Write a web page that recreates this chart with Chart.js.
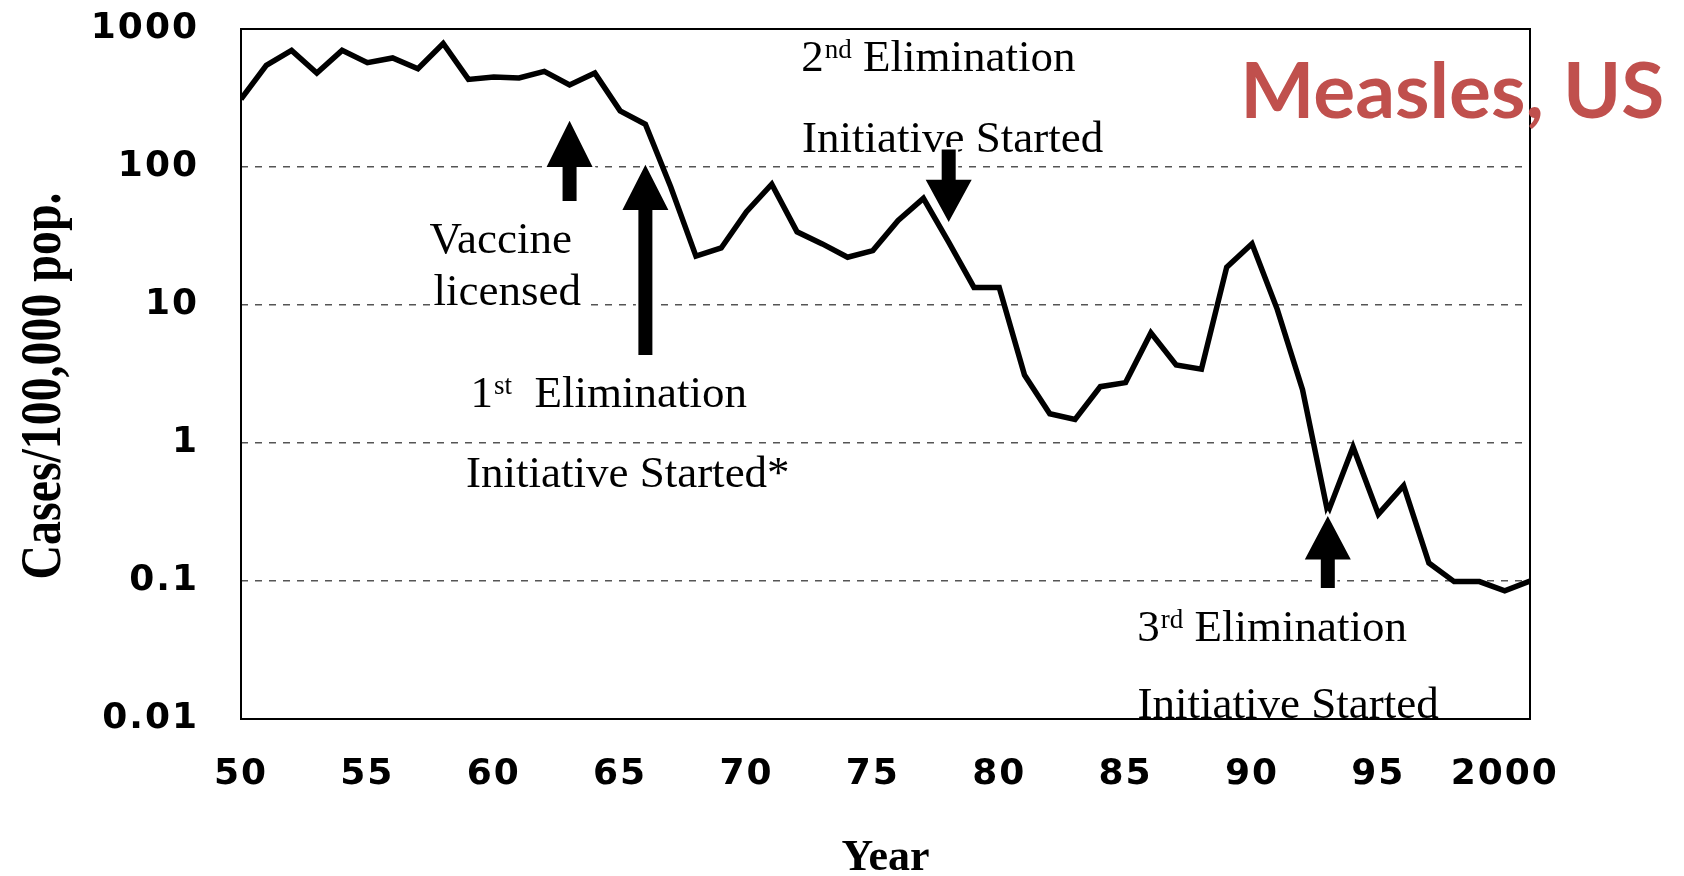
<!DOCTYPE html>
<html>
<head>
<meta charset="utf-8">
<script src="https://cdn.jsdelivr.net/npm/chart.js@4.4.1/dist/chart.umd.min.js"></script>
<style>
html, body { margin: 0; padding: 0; background: #fff; }
#wrap { width: 1684px; height: 876px; }
</style>
</head>
<body>
<div id="wrap"><canvas id="chart" width="1684" height="876"></canvas></div>
<script>
"use strict";

var years = [1950, 1951, 1952, 1953, 1954, 1955, 1956, 1957, 1958, 1959,
             1960, 1961, 1962, 1963, 1964, 1965, 1966, 1967, 1968, 1969,
             1970, 1971, 1972, 1973, 1974, 1975, 1976, 1977, 1978, 1979,
             1980, 1981, 1982, 1983, 1984, 1985, 1986, 1987, 1988, 1989,
             1990, 1991, 1992, 1993, 1994, 1995, 1996, 1997, 1998, 1999,
             2000, 2001];
// cases per 100,000
var rates = [310, 546, 700, 479, 700, 570, 617, 515, 785, 431,
             448, 442, 493, 393, 479, 255, 204, 72, 22.6, 25.9,
             47.4, 75, 33.9, 27.7, 22.2, 24.8, 41, 59.3, 28.6, 13.4,
             13.4, 3.11, 1.63, 1.48, 2.56, 2.74, 6.28, 3.68, 3.43, 18.8,
             27.8, 9.3, 2.43, 0.313, 0.935, 0.305, 0.49, 0.135, 0.099, 0.099,
             0.085, 0.1];

var xTickValues = [1950, 1955, 1960, 1965, 1970, 1975, 1980, 1985, 1990, 1995, 2000];
var xTickLabels = ['50', '55', '60', '65', '70', '75', '80', '85', '90', '95', '2000'];
var yTickValues = [0.01, 0.1, 1, 10, 100, 1000];
var yTickLabels = ['0.01', '0.1', '1', '10', '100', '1000'];

// arrows: year, tail value, head base value, tip value
var arrowYears = [1963, 1966, 1978, 1993];
var arrowTails = [56.6, 4.35, 134, 0.089];
var arrowBases = [100, 48.7, 80.8, 0.143];
var arrowTips = [216, 104, 40, 0.296];

// notes: text before superscript, superscript, text after; anchored at left/baseline
var notePre = ['Vaccine', 'licensed', '1', 'Initiative Started*', '2', 'Initiative Started', '3', 'Initiative Started'];
var noteSup = ['', '', 'st', '', 'nd', '', 'rd', ''];
var notePost = ['', '', '  Elimination', '', ' Elimination', '', ' Elimination', ''];
var noteYears = [1957.46, 1957.62, 1959.08, 1958.9, 1972.17, 1972.2, 1985.46, 1985.47];
var noteValues = [23.7, 10.0, 1.82, 0.48, 496, 129, 0.0367, 0.0101];

var titleText = 'Measles, US';
var titleYear = 1989.54;
var titleValue = 225;

var serif = '"Liberation Serif", "Times New Roman", serif';

function drawNote(ctx, i, x, y) {
    ctx.font = '45px ' + serif;
    var w = ctx.measureText(notePre[i]).width;
    if (notePre[i] === 'licensed') {
        ctx.fillStyle = '#fff';
        ctx.fillRect(x - 2, y - 6, w + 8, 10);
    }
    ctx.fillStyle = '#000';
    ctx.fillText(notePre[i], x, y);
    x += w;
    if (noteSup[i]) {
        ctx.font = '27px ' + serif;
        ctx.fillText(noteSup[i], x + 1, y - 13);
        x += ctx.measureText(noteSup[i]).width + 1;
        ctx.font = '45px ' + serif;
        ctx.fillText(notePost[i], x, y);
    }
}

var annotations = {
    id: 'annotations',
    beforeDraw: function(chart) {
        chart.ctx.letterSpacing = '2px';
    },
    beforeDatasetsDraw: function(chart) {
        var ctx = chart.ctx;
        var a = chart.chartArea;
        var sx = chart.scales.x, sy = chart.scales.y;
        ctx.save();
        ctx.letterSpacing = '0px';
        ctx.strokeStyle = '#000';
        ctx.lineWidth = 2;
        ctx.strokeRect(a.left, a.top, a.right - a.left, a.bottom - a.top);
        ctx.textAlign = 'left';
        ctx.textBaseline = 'alphabetic';
        for (var i = 0; i < notePre.length; i++) {
            drawNote(ctx, i, sx.getPixelForValue(noteYears[i]), sy.getPixelForValue(noteValues[i]));
        }
        ctx.restore();
    },
    afterDatasetsDraw: function(chart) {
        var ctx = chart.ctx;
        var a = chart.chartArea;
        var sx = chart.scales.x, sy = chart.scales.y;
        ctx.save();
        ctx.letterSpacing = '0px';
        for (var i = 0; i < arrowYears.length; i++) {
            var x = sx.getPixelForValue(arrowYears[i]);
            var yTail = sy.getPixelForValue(arrowTails[i]);
            var yBase = sy.getPixelForValue(arrowBases[i]);
            var yTip = sy.getPixelForValue(arrowTips[i]);
            ctx.beginPath();
            ctx.moveTo(x - 7, yTail);
            ctx.lineTo(x - 7, yBase);
            ctx.lineTo(x - 23, yBase);
            ctx.lineTo(x, yTip);
            ctx.lineTo(x + 23, yBase);
            ctx.lineTo(x + 7, yBase);
            ctx.lineTo(x + 7, yTail);
            ctx.closePath();
            ctx.lineJoin = 'miter';
            ctx.strokeStyle = '#fff';
            ctx.lineWidth = 5;
            ctx.stroke();
            ctx.fillStyle = '#000';
            ctx.fill();
        }

        // big red title
        ctx.font = 'bold 76px Lato, "Open Sans", sans-serif';
        ctx.fillStyle = '#c0504d';
        ctx.textAlign = 'left';
        ctx.textBaseline = 'alphabetic';
        var tx = sx.getPixelForValue(titleYear);
        var ty = sy.getPixelForValue(titleValue);
        var tw = ctx.measureText(titleText).width;
        ctx.save();
        ctx.translate(tx, ty);
        ctx.scale(424 / tw, 1);
        ctx.fillText(titleText, 0, 0);
        ctx.restore();

        // axis titles
        ctx.fillStyle = '#000';
        ctx.font = 'bold 58px ' + serif;
        ctx.textAlign = 'center';
        var yt = 'Cases/100,000 pop.';
        var yw = ctx.measureText(yt).width;
        ctx.save();
        ctx.translate(60, (a.top + a.bottom) / 2 + 12);
        ctx.rotate(-Math.PI / 2);
        ctx.scale(387 / yw, 1);
        ctx.fillText(yt, 0, 0);
        ctx.restore();

        ctx.font = 'bold 44px ' + serif;
        ctx.fillText('Year', (a.left + a.right) / 2, 870);
        ctx.restore();
    }
};

var tickFont = { family: '"DejaVu Sans", Verdana, sans-serif', weight: 'bold', size: 36 };

var chart = new Chart(document.getElementById('chart'), {
    type: 'line',
    data: {
        datasets: [{
            data: years.map(function(y, i) { return { x: y, y: rates[i] }; }),
            borderColor: '#000',
            borderWidth: 5.5,
            borderJoinStyle: 'miter',
            pointRadius: 0,
            tension: 0,
            fill: false
        }]
    },
    options: {
        responsive: false,
        animation: false,
        devicePixelRatio: 1,
        layout: { padding: { top: 29, right: 154, bottom: 0, left: 0 } },
        plugins: { legend: { display: false }, title: { display: false }, tooltip: { enabled: false } },
        scales: {
            x: {
                type: 'linear',
                min: 1950,
                max: 2001,
                afterBuildTicks: function(scale) {
                    scale.ticks = xTickValues.map(function(v) { return { value: v }; });
                },
                afterFit: function(scale) {
                    scale.height = 157;
                    scale.paddingLeft = 0;
                    scale.paddingRight = 0;
                },
                grid: { display: false, drawTicks: false },
                border: { display: false },
                ticks: {
                    padding: 34,
                    maxRotation: 0,
                    autoSkip: false,
                    color: '#000',
                    font: tickFont,
                    callback: function(v, i) { return xTickLabels[i]; }
                }
            },
            y: {
                type: 'logarithmic',
                min: 0.01,
                max: 1000,
                afterBuildTicks: function(scale) {
                    scale.ticks = yTickValues.map(function(v) { return { value: v }; });
                },
                afterFit: function(scale) {
                    scale.width = 241;
                    scale.paddingTop = 0;
                    scale.paddingBottom = 0;
                },
                grid: {
                    drawTicks: false,
                    lineWidth: 1.5,
                    color: function(ctx) {
                        var v = ctx.tick && ctx.tick.value;
                        return (v === 1000 || v === 0.01) ? 'rgba(0,0,0,0)' : '#555';
                    }
                },
                border: { display: false, dash: [7, 7] },
                ticks: {
                    padding: 42,
                    autoSkip: false,
                    color: '#000',
                    font: tickFont,
                    callback: function(v, i) { return yTickLabels[i]; }
                }
            }
        }
    },
    plugins: [annotations]
});
</script>
</body>
</html>
